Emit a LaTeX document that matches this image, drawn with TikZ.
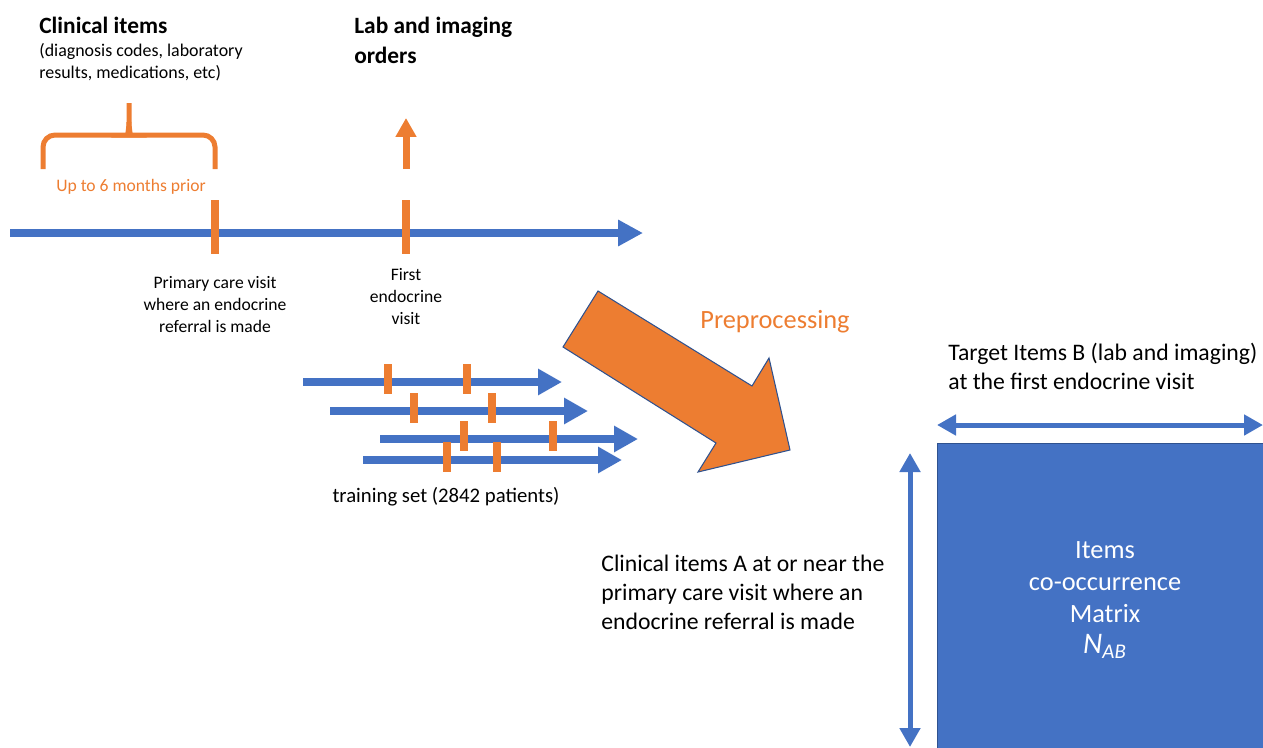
\documentclass[tikz,border=0pt]{standalone}
\usepackage{fontspec}
\setmainfont{Carlito}
\usepackage{tikz}
\usetikzlibrary{positioning, arrows.meta}
\definecolor{tlblue}{HTML}{4472C4}
\definecolor{tlorange}{HTML}{ED7D31}
\definecolor{edgeblue}{HTML}{2F528F}

\begin{document}
\begin{tikzpicture}[
    x=0.02cm, y=-0.02cm,
    node distance = 4mm,
    txt/.style = {inner sep=0pt, font=\fontsize{10}{12.5}\selectfont},
    heading/.style = {inner sep=0pt, align=left, font=\bfseries\fontsize{13.3}{17}\selectfont},
    note/.style = {inner sep=0pt, align=left, font=\fontsize{13.5}{16.5}\selectfont},
    visit/.style = {fill=tlorange, inner sep=0pt, minimum width=1.6mm, minimum height=1.08cm},
    shortvisit/.style = {visit, minimum height=6mm},
    timeline/.style = {draw=tlblue, line width=1.6mm, -{Triangle[length=5mm, width=5mm]}},
    patient/.style = {draw=tlblue, line width=1.6mm, -{Triangle[length=4.8mm, width=5mm]}},
    toorders/.style = {draw=tlorange, line width=1.4mm, -{Triangle[length=3.8mm, width=4mm]}},
    dims/.style = {draw=tlblue, line width=1mm, {Triangle[length=3.8mm, width=4mm]}-{Triangle[length=3.8mm, width=4mm]}},
    brace/.style = {draw=tlorange, line width=1mm},
    bigarrow/.style = {fill=tlorange, draw=edgeblue, line width=0.6pt, line join=miter},
    matrixbox/.style = {fill=tlblue, draw=edgeblue, line width=0.6pt, text=white, align=center,
                        minimum width=6.72cm, minimum height=6.28cm, font=\fontsize{15}{18}\selectfont},
    ]
    \useasboundingbox (0,0) rectangle (1263,747);

    % headings
    \node[heading, anchor=west] (clin) at (39,25) {Clinical items};
    \node[txt, align=left, anchor=west, font=\fontsize{10.2}{12.5}\selectfont] (clinsub) at (39,62)
        {(diagnosis codes, laboratory\\results, medications, etc)};
    \node[heading, anchor=west] (orders) at (354,40) {Lab and imaging\\orders};

    % brace over the look-back window
    \draw[brace] (43,169) [rounded corners=2.4mm] |- (119,135) [sharp corners]
        .. controls (126,135) and (129,131) .. (129,122) -- (129,103);
    \draw[brace] (215,169) [rounded corners=2.4mm] |- (139,135) [sharp corners]
        .. controls (132,135) and (129,131) .. (129,122);
    \node[txt, text=tlorange] (prior) at (131,187) {Up to 6 months prior};

    % single patient timeline
    \coordinate (t0) at (10,233);
    \coordinate (t1) at (643,233);
    \draw[timeline] (t0) -- (t1);
    \node[visit] (pcv) at (215,227) {};
    \node[visit] (fev) at (406,227) {};
    \node[txt, align=center, below=4.4mm of pcv] (pcvlab) {Primary care visit\\where an endocrine\\referral is made};
    \node[txt, align=center, below=2.8mm of fev] (fevlab) {First\\endocrine\\visit};
    \coordinate (up0) at (406,169);
    \coordinate (up1) at (406,118);
    \draw[toorders] (up0) -- (up1);

    % training set
    \foreach \i/\xs/\xe/\y/\a/\b in {1/303/562/382/388/467, 2/330/588/411/414/492,
                                     3/380/638/439/464/553, 4/363/622/460/447/497} {
        \coordinate (s\i) at (\xs,\y);
        \coordinate (e\i) at (\xe,\y);
        \draw[patient] (s\i) -- (e\i);
        \node[shortvisit] (v\i a) at ({\a},{\y-3.5}) {};
        \node[shortvisit] (v\i b) at ({\b},{\y-3.5}) {};
    }
    \node[txt, font=\fontsize{11.8}{14}\selectfont] (train) at (446,497) {training set (2842 patients)};

    % preprocessing step
    \filldraw[bigarrow] (598,291) -- (752,386) -- (769,358) -- (790,450) -- (698,472)
        -- (716,443) -- (563,347) -- cycle;
    \node[inner sep=0pt, text=tlorange, font=\fontsize{15}{18}\selectfont] (prep) at (775,322) {Preprocessing};

    % co-occurrence matrix
    \node[matrixbox] (nab) at (1105,600)
        {Items\\co-occurrence\\Matrix\\{\fontsize{17}{18}\selectfont\itshape N\textsubscript{AB}}};
    \coordinate (bl) at (937,425);
    \coordinate (br) at (1263,425);
    \draw[dims] (bl) -- (br);
    \coordinate (at) at (910,453);
    \coordinate (ab) at (910,747);
    \draw[dims] (at) -- (ab);
    \node[note, anchor=west] (target) at (948,366) {Target Items B (lab and imaging)\\at the first endocrine visit};
    \node[note, anchor=west] (clinA) at (601,592) {Clinical items A at or near the\\primary care visit where an\\endocrine referral is made};
\end{tikzpicture}
\end{document}
